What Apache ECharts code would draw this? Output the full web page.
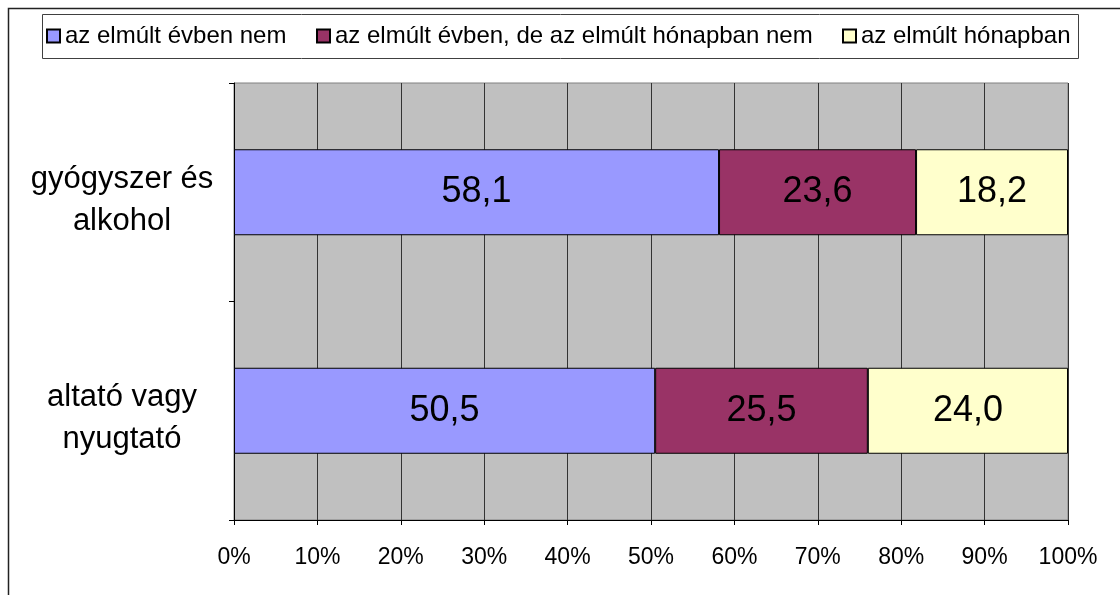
<!DOCTYPE html>
<html>
<head>
<meta charset="utf-8">
<script src="https://cdn.jsdelivr.net/npm/echarts@6/dist/echarts.min.js"></script>
<style>
  html, body { margin: 0; padding: 0; background: #fff; }
  #chart { width: 1120px; height: 595px; }
</style>
</head>
<body>
<div id="chart"></div>
<script>
// kategóriák (alulról felfelé)
var categories = ['altató vagy\nnyugtató', 'gyógyszer és\nalkohol'];
var seriesNames = ['az elmúlt évben nem', 'az elmúlt évben, de az elmúlt hónapban nem', 'az elmúlt hónapban'];
var evbenNem = [50.5, 58.1];
var honapbanNem = [25.5, 23.6];
var honapban = [24.0, 18.2];
var colors = ['#9999ff', '#993366', '#ffffcc'];
var xTicks = [0, 10, 20, 30, 40, 50, 60, 70, 80, 90, 100];

var raw = [evbenNem, honapbanNem, honapban];
// 100%-os halmozás
var totals = categories.map(function (c, i) {
  return raw.reduce(function (s, arr) { return s + arr[i]; }, 0);
});

var chart = echarts.init(document.getElementById('chart'));
var font = 'Liberation Sans, Arial, sans-serif';

var series = raw.map(function (arr, k) {
  return {
    name: seriesNames[k],
    type: 'bar',
    stack: 'total',
    barWidth: 86,
    data: arr.map(function (v, i) {
      return { value: v / totals[i] * 100, orig: v };
    }),
    itemStyle: { color: colors[k], borderColor: '#000', borderWidth: 1 },
    label: {
      show: true,
      position: 'inside',
      color: '#000',
      fontSize: 36,
      fontFamily: font,
      padding: [5, 0, 0, 0],
      formatter: function (p) { return p.data.orig.toFixed(1).replace('.', ','); }
    }
  };
});

var legendLefts = [46, 316, 842];

var option = {
  animation: false,
  backgroundColor: '#fff',
  graphic: [
    { type: 'rect', shape: { x: 8.5, y: 8.5, width: 1300, height: 800 },
      style: { fill: 'none', stroke: '#222', lineWidth: 1.5 }, silent: true },
    { type: 'rect', shape: { x: 42.5, y: 14.5, width: 1036, height: 44 },
      style: { fill: 'none', stroke: '#404040', lineWidth: 1 }, silent: true }
  ],
  legend: seriesNames.map(function (n, k) {
    return {
      data: [n],
      left: legendLefts[k],
      top: 24,
      padding: 0,
      itemWidth: 13,
      itemHeight: 13,
      icon: 'rect',
      textStyle: { fontSize: 24, fontFamily: font, color: '#000' }
    };
  }),
  grid: {
    left: 234, right: 52, top: 83, bottom: 75,
    show: true,
    backgroundColor: '#c0c0c0',
    borderColor: '#808080',
    borderWidth: 1
  },
  xAxis: {
    type: 'value',
    min: xTicks[0],
    max: xTicks[xTicks.length - 1],
    interval: 10,
    axisLine: { show: true, lineStyle: { color: '#000' } },
    axisTick: { show: true, length: 5, lineStyle: { color: '#000' } },
    splitLine: { show: true, lineStyle: { color: '#333', width: 1 } },
    axisLabel: {
      color: '#000', fontSize: 23, fontFamily: font, margin: 26,
      formatter: '{value}%'
    }
  },
  yAxis: {
    type: 'category',
    data: categories,
    axisLine: { show: true, lineStyle: { color: '#000' } },
    axisTick: { show: true, length: 5, lineStyle: { color: '#000' } },
    axisLabel: {
      color: '#000', fontSize: 31, fontFamily: font,
      lineHeight: 42, align: 'center', margin: 112,
      // üres első sor a függőleges eltoláshoz
      formatter: function (v) {
        return '{s| }\n' + v.split('\n').map(function (l) { return '{t|' + l + '}'; }).join('\n');
      },
      rich: {
        s: { fontSize: 10, lineHeight: 16 },
        t: { fontSize: 31, lineHeight: 42, fontFamily: font, color: '#000' }
      }
    }
  },
  series: series
};

chart.setOption(option);
</script>
</body>
</html>
